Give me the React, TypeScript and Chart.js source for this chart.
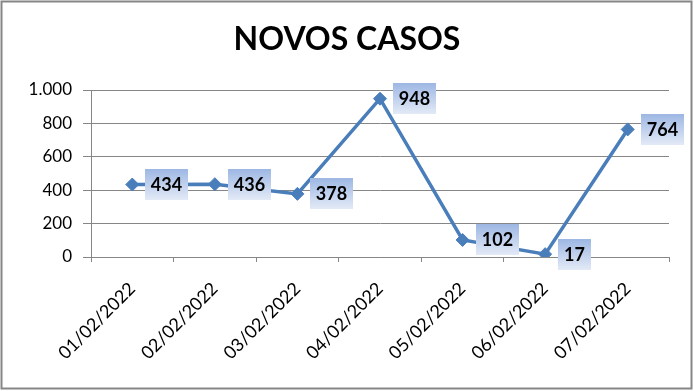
import React, { useEffect, useRef } from "react";
import { Chart, registerables } from "chart.js";

Chart.register(...registerables);

const TITLE = "NOVOS CASOS";
const categories = ["01/02/2022", "02/02/2022", "03/02/2022", "04/02/2022", "05/02/2022", "06/02/2022", "07/02/2022"];
const novosCasos = [434, 436, 378, 948, 102, 17, 764];
const yMin = 0;
const yMax = 1000;
const yStep = 200;

const FONT = "Lato, 'Noto Sans', sans-serif";
const GRID = "#868686";
const LINE = "#4A7EBB";

function fmt(v: number): string {
  return String(Math.round(v)).replace(/\B(?=(\d{3})+(?!\d))/g, ".");
}

const decorPlugin = {
  id: "decor",
  beforeDraw(chart: any) {
    const ctx = chart.ctx;
    ctx.save();
    ctx.fillStyle = "#ffffff";
    ctx.fillRect(0, 0, chart.width, chart.height);
    ctx.restore();
  },
  afterDraw(chart: any) {
    const ctx = chart.ctx;
    ctx.save();
    ctx.strokeStyle = GRID;
    ctx.lineWidth = 2;
    ctx.strokeRect(1.5, 1.5, 690, 387);
    ctx.fillStyle = "#000";
    ctx.font = `bold 32px ${FONT}`;
    ctx.textAlign = "center";
    ctx.textBaseline = "alphabetic";
    ctx.fillText(TITLE, 347, 49.5);
    ctx.restore();
  },
  afterDatasetsDraw(chart: any) {
    const ctx = chart.ctx;
    const meta = chart.getDatasetMeta(0);
    const data = chart.data.datasets[0].data as number[];
    ctx.save();
    ctx.font = `bold 18px ${FONT}`;
    meta.data.forEach((pt: any, i: number) => {
      const txt = fmt(data[i]);
      const tw = ctx.measureText(txt).width;
      const w = Math.round(tw + 12);
      const h = 31;
      const x = Math.round(pt.x + 13);
      const y = Math.round(pt.y - h / 2);
      const g = ctx.createLinearGradient(0, y, 0, y + h);
      g.addColorStop(0, "#9DB7E3");
      g.addColorStop(1, "#E3EAF7");
      ctx.fillStyle = g;
      ctx.fillRect(x, y, w, h);
      ctx.fillStyle = "#000";
      ctx.textAlign = "center";
      ctx.textBaseline = "middle";
      ctx.fillText(txt, x + w / 2, y + h / 2 + 1);
    });
    ctx.restore();
  },
};

export default function App() {
  const ref = useRef<HTMLCanvasElement | null>(null);
  useEffect(() => {
    document.body.style.margin = "0";
    if (!ref.current) return;
    const chart = new Chart(ref.current, {
      type: "line",
      data: {
        labels: categories,
        datasets: [
          {
            data: novosCasos,
            borderColor: LINE,
            backgroundColor: LINE,
            borderWidth: 3.5,
            pointStyle: "rectRot",
            pointRadius: 6.5,
            pointBorderWidth: 1,
            pointBackgroundColor: LINE,
            pointBorderColor: LINE,
            tension: 0,
          },
        ],
      },
      options: {
        responsive: false,
        animation: false,
        layout: { padding: { left: 0, right: 25, top: 90, bottom: 0 } },
        plugins: { legend: { display: false }, title: { display: false }, tooltip: { enabled: false } },
        scales: {
          x: {
            offset: true,
            afterFit: (s: any) => {
              s.height = 134;
            },
            grid: { offset: true, drawOnChartArea: false, drawTicks: true, tickLength: 5, color: GRID },
            border: { display: true, color: GRID },
            ticks: {
              minRotation: 45,
              maxRotation: 45,
              autoSkip: false,
              padding: 16,
              color: "#000",
              font: { family: FONT, size: 18 },
            },
          },
          y: {
            min: yMin,
            max: yMax,
            afterFit: (s: any) => {
              s.width = 91;
            },
            grid: { color: GRID, tickLength: 8, drawTicks: true },
            border: { display: true, color: GRID },
            ticks: {
              stepSize: yStep,
              padding: 11,
              color: "#000",
              font: { family: FONT, size: 17 },
              callback: (v: any) => fmt(Number(v)),
            },
          },
        },
      },
      plugins: [decorPlugin],
    });
    return () => chart.destroy();
  }, []);
  return (
    <div style={{ position: "absolute", left: 0, top: 0, width: 694, height: 391 }}>
      <canvas ref={ref} width={694} height={391} />
    </div>
  );
}
